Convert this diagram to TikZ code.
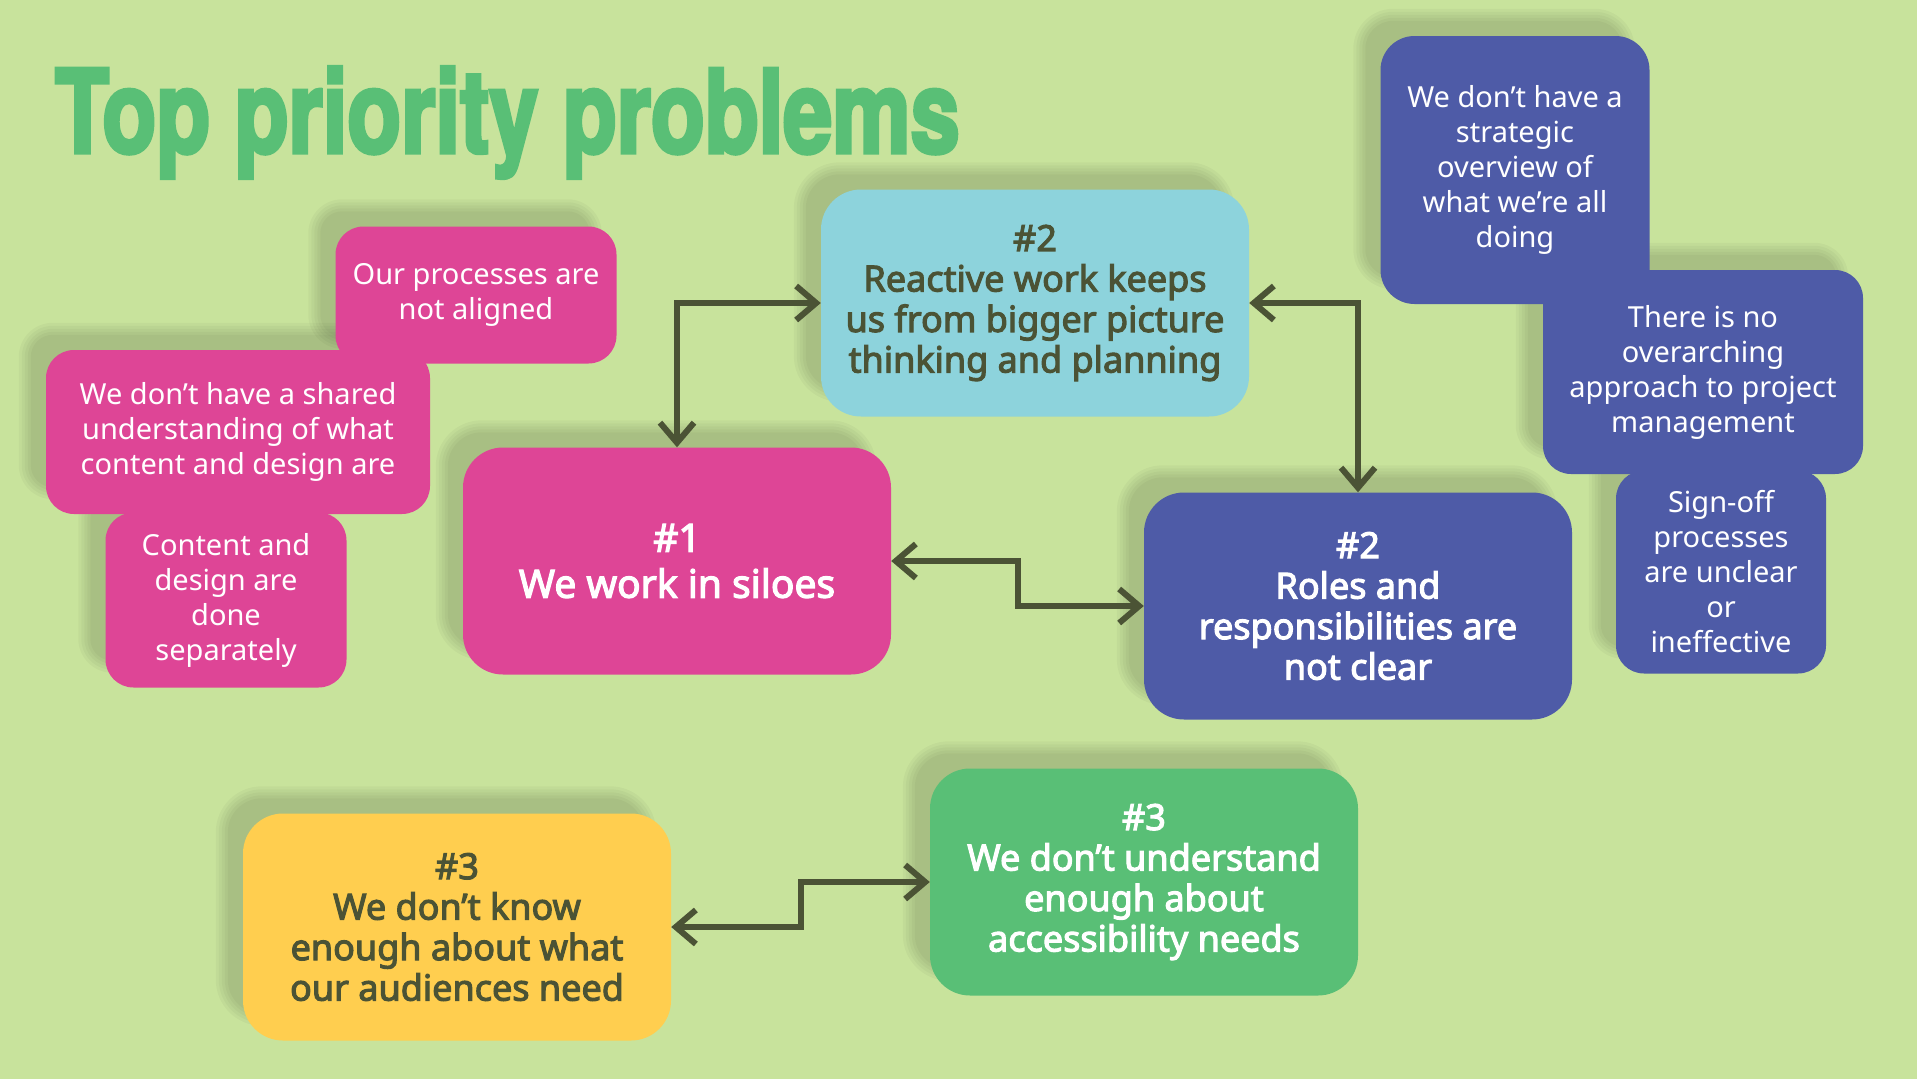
\documentclass[tikz,border=0pt]{standalone}
\usepackage{fontspec}
\setmainfont{Noto Sans}[AutoFakeBold=3]
\newfontfamily\titlefont[FakeStretch=0.76,BoldFeatures={FakeBold=3}]{TeX Gyre Heros}
\usetikzlibrary{arrows.meta,calc,backgrounds}
\definecolor{bggreen}{HTML}{C8E39C}
\definecolor{titlegreen}{HTML}{59BF76}
\definecolor{pinkbox}{HTML}{DE4596}
\definecolor{cyanbox}{HTML}{8DD3DC}
\definecolor{bluebox}{HTML}{4E5BA7}
\definecolor{yellowbox}{HTML}{FFCE4F}
\definecolor{greenbox}{HTML}{59BF76}
\definecolor{ink}{HTML}{4B5335}

\begin{document}
\begin{tikzpicture}[
  x=1pt, y=-1pt,
  note/.style={rounded corners=28pt, align=center, inner sep=0pt, text=white, font=\fontsize{29}{35}\selectfont},
  issue/.style={rounded corners=40pt, align=center, inner sep=0pt, minimum width=428pt, minimum height=227pt, font=\fontsize{36}{40.5}\selectfont\bfseries},
  link/.style={{Straight Barb[length=20pt,width=34pt]}-{Straight Barb[length=20pt,width=34pt]}, line width=6pt, draw=ink},
  headline/.style={font=\titlefont\bfseries\fontsize{116}{116}\selectfont, text=titlegreen, inner sep=0pt}
]
  \useasboundingbox (0,0) rectangle (1917,1079);
  \begin{scope}[on background layer]
    \fill[bggreen] (0,0) rectangle (1917,1079);
  \end{scope}

  \node[headline, anchor=base west] (title) at (55,153) {Top priority problems};

  % pink cluster
  \node[note, fill=pinkbox, minimum width=281pt, minimum height=137pt] (procs) at (476,295) {Our processes are\\not aligned};
  \node[note, fill=pinkbox, minimum width=384pt, minimum height=164pt] (shared) at (238,432) {We don’t have a shared\\understanding of what\\content and design are};
  \node[note, fill=pinkbox, minimum width=241pt, minimum height=175pt] (apart) at (226,600) {Content and\\design are\\done\\separately};

  % blue cluster
  \node[note, fill=bluebox, rounded corners=34pt, minimum width=269pt, minimum height=268pt] (strategic) at (1515,170) {We don’t have a\\strategic\\overview of\\what we’re all\\doing};
  \node[note, fill=bluebox, minimum width=320pt, minimum height=204pt] (overarch) at (1703,372) {There is no\\overarching\\approach to project\\management};
  \node[note, fill=bluebox, minimum width=210pt, minimum height=203pt] (signoff) at (1721,572) {Sign-off\\processes\\are unclear\\or\\ineffective};

  % main problems
  \node[issue, fill=pinkbox, text=white, font=\fontsize{39}{46}\selectfont\bfseries] (siloes) at (677,561) {\#1\\We work in siloes};
  \node[issue, fill=cyanbox, text=ink] (reactive) at (1035,303) {\#2\\Reactive work keeps\\us from bigger picture\\thinking and planning};
  \node[issue, fill=bluebox, text=white] (roles) at (1358,606) {\#2\\Roles and\\responsibilities are\\not clear};
  \node[issue, fill=yellowbox, text=ink] (audiences) at (457,927) {\#3\\We don’t know\\enough about what\\our audiences need};
  \node[issue, fill=greenbox, text=white] (access) at (1144,882) {\#3\\We don’t understand\\enough about\\accessibility needs};

  % soft shadows, up and to the left
  \begin{scope}[on background layer]
    \foreach \n/\r in {procs/28, shared/28, apart/28, strategic/34, overarch/28, signoff/28,
                       siloes/40, reactive/40, roles/40, audiences/40, access/40}
      \foreach \g in {0,3,6,9,12}
        \fill[black, opacity=0.03, rounded corners=\r pt+\g pt-6pt]
          ([xshift=-15pt-\g pt, yshift=15pt+\g pt]\n.north west) rectangle
          ([xshift=-27pt+\g pt, yshift=27pt-\g pt]\n.south east);
  \end{scope}

  \draw[link] (reactive.west) -| (siloes.north);
  \draw[link] (reactive.east) -| (roles.north);
  \draw[link] (siloes.east) -| ($(siloes.east)!.5!(roles.west)$) |- (roles.west);
  \draw[link] (audiences.east) -| ($(audiences.east)!.5!(access.west)$) |- (access.west);
\end{tikzpicture}
\end{document}
